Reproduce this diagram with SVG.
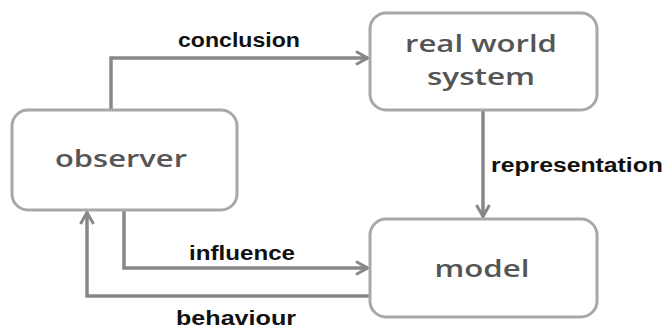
<svg xmlns="http://www.w3.org/2000/svg" width="667" height="329" viewBox="0 0 667 329">
<style>
.box{fill:#fff;stroke:#a8a8a8;stroke-width:3}
.nt{font-family:"Open Sans","Liberation Sans",sans-serif;font-size:23px;font-weight:600;fill:#555;text-anchor:middle}
.lbl{font-family:"Liberation Sans",sans-serif;font-size:20px;font-weight:bold;fill:#111}
.edge{fill:none;stroke:#888;stroke-width:3.5}
</style>
<defs>
<marker id="arr" viewBox="0 0 14 16" refX="13" refY="8" markerWidth="14" markerHeight="16" markerUnits="userSpaceOnUse" orient="auto">
<polyline points="1,1.5 12.5,8 1,14.5" fill="none" stroke="#888" stroke-width="3"/>
</marker>
</defs>
<g id="connectors">
<polyline class="edge" points="111,110 111,58 368,58" marker-end="url(#arr)"/>
<polyline class="edge" points="483,110 483,217" marker-end="url(#arr)"/>
<polyline class="edge" points="124,210 124,268 368,268" marker-end="url(#arr)"/>
<polyline class="edge" points="370,296 87,296 87,212" marker-end="url(#arr)"/>
<text class="lbl" x="178" y="47" textLength="122" lengthAdjust="spacingAndGlyphs">conclusion</text>
<text class="lbl" x="491" y="172" textLength="172" lengthAdjust="spacingAndGlyphs">representation</text>
<text class="lbl" x="189" y="260" textLength="106" lengthAdjust="spacingAndGlyphs">influence</text>
<text class="lbl" x="176" y="325" textLength="120" lengthAdjust="spacingAndGlyphs">behaviour</text>
</g>
<g id="observer">
<rect class="box" x="12" y="110" width="225" height="100" rx="16"/>
<text class="nt" x="121" y="167" textLength="132" lengthAdjust="spacingAndGlyphs">observer</text>
</g>
<g id="real-world-system">
<rect class="box" x="370" y="13" width="227" height="97" rx="16"/>
<text class="nt" x="481" y="52" textLength="152" lengthAdjust="spacingAndGlyphs">real world</text>
<text class="nt" x="481" y="85" textLength="108" lengthAdjust="spacingAndGlyphs">system</text>
</g>
<g id="model">
<rect class="box" x="370" y="219" width="227" height="98" rx="16"/>
<text class="nt" x="482" y="277" textLength="95" lengthAdjust="spacingAndGlyphs">model</text>
</g>
</svg>
